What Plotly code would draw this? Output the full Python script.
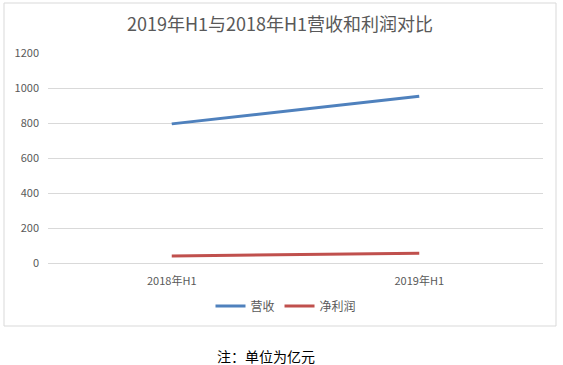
import plotly.graph_objects as go

categories = ["2018年H1", "2019年H1"]
revenue = [795, 953]
net_profit = [40, 56]
y_ticks = [0, 200, 400, 600, 800, 1000, 1200]

W, H = 563, 365
L, R, T, B = 48, 20, 53, 102
pw, ph = W - L - R, H - T - B

def px(x):
    return (x - L) / pw

def py(y):
    return (H - B - y) / ph

font = "Noto Sans CJK SC, Noto Sans, sans-serif"

fig = go.Figure()
fig.add_trace(go.Scatter(x=categories, y=revenue, name="营收", mode="lines",
                         line=dict(color="#4f81bd", width=3)))
fig.add_trace(go.Scatter(x=categories, y=net_profit, name="净利润", mode="lines",
                         line=dict(color="#c0504d", width=3)))

fig.update_layout(
    width=W, height=H,
    margin=dict(l=L, r=R, t=T, b=B),
    paper_bgcolor="white", plot_bgcolor="white",
    font=dict(family=font, size=11, color="#595959"),
    title=dict(text="2019年H1与2018年H1营收和利润对比", x=px(280), xanchor="center",
               xref="paper", y=1 - 25 / H, yanchor="middle",
               font=dict(size=18, color="#595959", family=font)),
    showlegend=True,
    legend=dict(orientation="h", x=px(286), xanchor="center", y=py(306), yanchor="middle",
                font=dict(size=12, color="#595959"), itemwidth=30,
                bgcolor="rgba(0,0,0,0)"),
    xaxis=dict(type="category", range=[-0.5, 1.5], showgrid=False, showline=True,
               linecolor="#d9d9d9", linewidth=1, ticks="", ticklabelstandoff=8,
               tickfont=dict(size=11, color="#595959")),
    yaxis=dict(range=[0, 1200], tickvals=y_ticks, showgrid=True, gridcolor="#d9d9d9",
               gridwidth=1, zeroline=False, showline=False, ticks="",
               ticklabelstandoff=8, tickfont=dict(size=11, color="#595959")),
    shapes=[dict(type="rect", xref="paper", yref="paper",
                 x0=px(4), x1=px(556), y0=py(326), y1=py(3),
                 line=dict(color="#d9d9d9", width=1), fillcolor="rgba(0,0,0,0)",
                 layer="below")],
    annotations=[dict(text="注：单位为亿元", xref="paper", yref="paper",
                      x=px(266), y=py(356), xanchor="center", yanchor="middle",
                      showarrow=False, font=dict(size=14, color="#000000", family=font))],
)

fig.write_html("out.html")
